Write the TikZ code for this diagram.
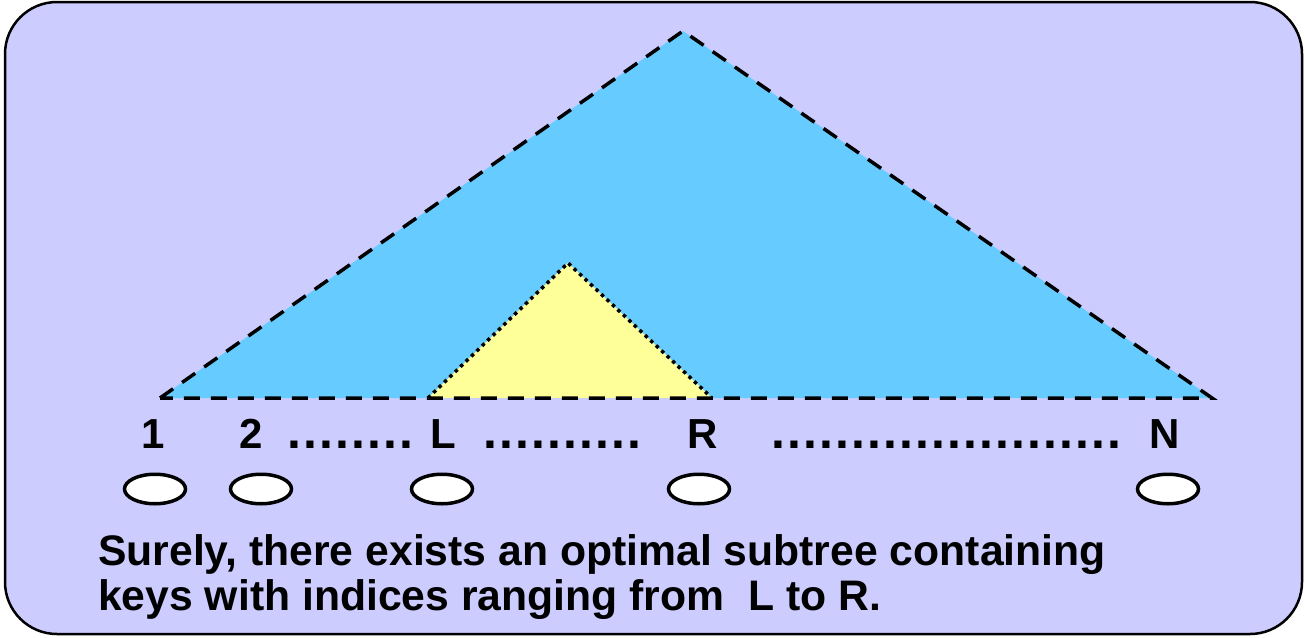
\documentclass[tikz,border=0pt]{standalone}
\usepackage{fontspec}
\setmainfont{Liberation Sans}
\usetikzlibrary{shapes.geometric}
\definecolor{bgpurple}{HTML}{CCCCFF}
\definecolor{treeblue}{HTML}{66CCFF}
\definecolor{subyellow}{HTML}{FFFF99}
\newcommand\dt{.\kern2.1pt}
\begin{document}
\begin{tikzpicture}[x=1pt,y=-1pt,
  lab/.style={font=\fontsize{42}{45}\selectfont\bfseries, inner sep=0pt, anchor=base},
  dotsrow/.style={font=\fontsize{50}{52}\selectfont\bfseries, inner sep=0pt, anchor=base west},
  caption/.style={font=\fontsize{42.7}{45}\selectfont\bfseries, inner sep=0pt, anchor=base west},
  keynode/.style={ellipse, draw=black, line width=3.5pt, fill=white, minimum width=61pt, minimum height=29.5pt, inner sep=0pt},
  bigtri/.style={draw=black, line width=3.5pt, dash pattern=on 16pt off 11pt},
  subtri/.style={draw=black, line width=3.5pt, dash pattern=on 3.5pt off 4pt}]
\useasboundingbox (0,0) rectangle (1305,637);
\draw[line width=2.5pt, fill=bgpurple, rounded corners=52pt] (5,2) rectangle (1302,634);
% big tree
\coordinate (A) at (683,31);
\coordinate (B1) at (160,398);
\coordinate (BN) at (1212,398);
% subtree
\coordinate (S) at (568,263);
\coordinate (SL) at (428,398);
\coordinate (SR) at (712,398);
\fill[treeblue] (A) -- (BN) -- (B1) -- cycle;
\fill[subyellow] (S) -- (SR) -- (SL) -- cycle;
\draw[bigtri] (B1) -- (A) -- (BN) -- cycle;
\draw[subtri] (SL) -- (S) -- (SR);
% labels
\node[lab] (l1) at (153,448) {1};
\node[lab] (l2) at (251,448) {2};
\node[dotsrow] (d1) at (287,448) {\dt\dt\dt\dt\dt\dt\dt\dt};
\node[lab] (lL) at (443,448) {L};
\node[dotsrow] (d2) at (483,448) {\dt\dt\dt\dt\dt\dt\dt\dt\dt\dt};
\node[lab] (lR) at (703,448) {R};
\node[dotsrow] (d3) at (771,448) {\dt\dt\dt\dt\dt\dt\dt\dt\dt\dt\dt\dt\dt\dt\dt\dt\dt\dt\dt\dt\dt\dt};
\node[lab] (lN) at (1165,448) {N};
% keys
\node[keynode] (k1) at (155,489) {};
\node[keynode] (k2) at (261,489) {};
\node[keynode] (kL) at (442,489) {};
\node[keynode] (kR) at (699,489) {};
\node[keynode] (kN) at (1168,489) {};
% caption
\node[caption] (t1) at (98,565) {Surely, there exists an optimal subtree containing};
\node[caption] (t2) at (98,610) {keys with indices ranging from~\ L to R.};
\end{tikzpicture}
\end{document}
